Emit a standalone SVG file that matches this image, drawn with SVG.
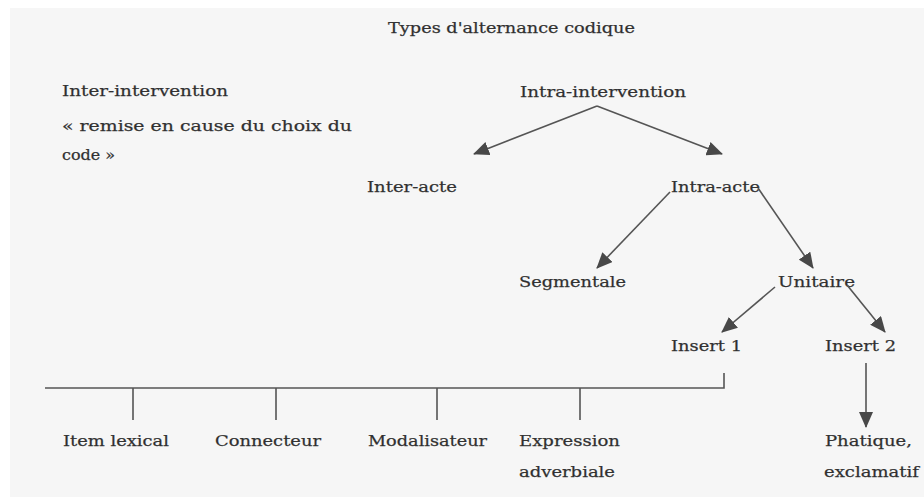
<svg xmlns="http://www.w3.org/2000/svg" width="924" height="497" viewBox="0 0 924 497">
<defs>
<style>
text{font-family:"DejaVu Serif","Liberation Serif",serif;font-size:15px;fill:#2e2e2e;stroke:#3a3a3a;stroke-width:0.25;}
.ln{stroke:#555;stroke-width:1.6;fill:none;}
</style>
<marker id="ah" markerUnits="userSpaceOnUse" markerWidth="16" markerHeight="14" refX="15" refY="7" orient="auto">
<path d="M0,0 L16,7 L0,14 Z" fill="#484848"/>
</marker>
</defs>
<rect x="0" y="0" width="924" height="497" fill="#ffffff"/>
<rect x="10" y="8" width="914" height="489" fill="#f6f6f6"/>
<g id="title"><text x="388" y="33" textLength="247" lengthAdjust="spacingAndGlyphs">Types d'alternance codique</text></g>
<g id="inter-intervention">
<text x="62" y="96" textLength="166" lengthAdjust="spacingAndGlyphs">Inter-intervention</text>
<text x="62" y="131" textLength="290" lengthAdjust="spacingAndGlyphs">« remise en cause du choix du</text>
<text x="62" y="160" textLength="53" lengthAdjust="spacingAndGlyphs">code »</text>
</g>
<g id="intra-intervention"><text x="520" y="97" textLength="166" lengthAdjust="spacingAndGlyphs">Intra-intervention</text></g>
<g id="inter-acte"><text x="367" y="192" textLength="90" lengthAdjust="spacingAndGlyphs">Inter-acte</text></g>
<g id="intra-acte"><text x="671" y="192" textLength="89" lengthAdjust="spacingAndGlyphs">Intra-acte</text></g>
<g id="segmentale"><text x="519" y="287" textLength="107" lengthAdjust="spacingAndGlyphs">Segmentale</text></g>
<g id="unitaire"><text x="778" y="287" textLength="77" lengthAdjust="spacingAndGlyphs">Unitaire</text></g>
<g id="insert1"><text x="671" y="351" textLength="71" lengthAdjust="spacingAndGlyphs">Insert 1</text></g>
<g id="insert2"><text x="825" y="351" textLength="71" lengthAdjust="spacingAndGlyphs">Insert 2</text></g>
<g id="item-lexical"><text x="63" y="446" textLength="106" lengthAdjust="spacingAndGlyphs">Item lexical</text></g>
<g id="connecteur"><text x="215" y="446" textLength="106" lengthAdjust="spacingAndGlyphs">Connecteur</text></g>
<g id="modalisateur"><text x="368" y="446" textLength="119" lengthAdjust="spacingAndGlyphs">Modalisateur</text></g>
<g id="expression">
<text x="519" y="446" textLength="101" lengthAdjust="spacingAndGlyphs">Expression</text>
<text x="519" y="477" textLength="96" lengthAdjust="spacingAndGlyphs">adverbiale</text>
</g>
<g id="phatique">
<text x="825" y="446" textLength="87" lengthAdjust="spacingAndGlyphs">Phatique,</text>
<text x="824" y="477" textLength="95" lengthAdjust="spacingAndGlyphs">exclamatif</text>
</g>
<g id="connectors">
<line class="ln" x1="597" y1="106" x2="474" y2="154" marker-end="url(#ah)"/>
<line class="ln" x1="597" y1="106" x2="722" y2="154" marker-end="url(#ah)"/>
<line class="ln" x1="670" y1="192" x2="597" y2="268" marker-end="url(#ah)"/>
<line class="ln" x1="758" y1="188" x2="813" y2="268" marker-end="url(#ah)"/>
<line class="ln" x1="775" y1="287" x2="722" y2="332" marker-end="url(#ah)"/>
<line class="ln" x1="847" y1="285" x2="885" y2="332" marker-end="url(#ah)"/>
<line class="ln" x1="866" y1="363" x2="866" y2="427" marker-end="url(#ah)"/>
<polyline class="ln" points="724,373 724,388 45,388"/>
<line class="ln" x1="133" y1="388" x2="133" y2="420"/>
<line class="ln" x1="276" y1="388" x2="276" y2="420"/>
<line class="ln" x1="437" y1="388" x2="437" y2="420"/>
<line class="ln" x1="580" y1="388" x2="580" y2="420"/>
</g>
</svg>
